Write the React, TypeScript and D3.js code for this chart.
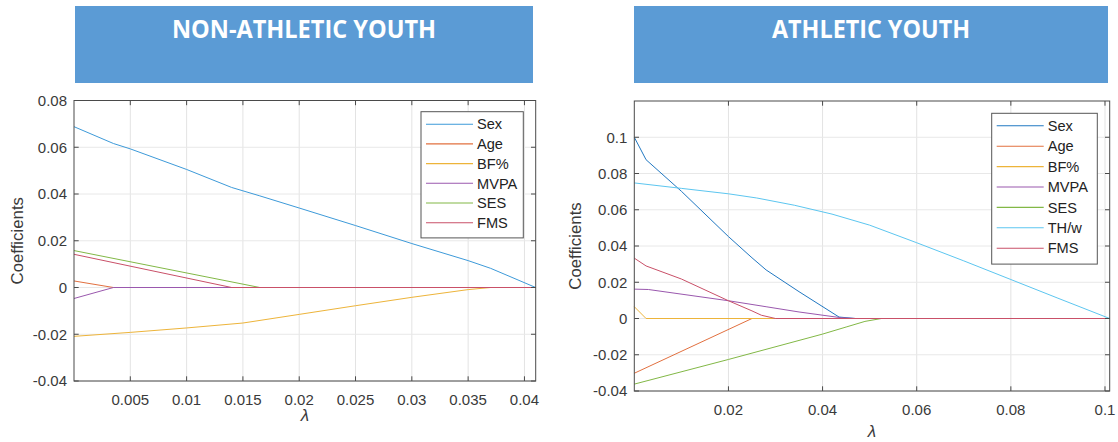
import React from 'react';
import * as d3 from 'd3';

type Pt = [number, number];

// ---------- Titles ----------
const panelTitles = ['NON-ATHLETIC YOUTH', 'ATHLETIC YOUTH'];
const yAxisLabel = 'Coefficients';
const xAxisLabel = 'λ';

// ---------- Non-athletic youth ----------
const naSeriesNames = ['Sex', 'Age', 'BF%', 'MVPA', 'SES', 'FMS'];
const naXTicks = [0.005, 0.01, 0.015, 0.02, 0.025, 0.03, 0.035, 0.04];
const naYTicks = [-0.04, -0.02, 0, 0.02, 0.04, 0.06, 0.08];
const naXDomain: Pt = [0, 0.041];
const naYDomain: Pt = [-0.04, 0.08];

const naSex: Pt[] = [
  [0, 0.0688], [0.0035, 0.0616], [0.005, 0.0593], [0.01, 0.0505], [0.014, 0.0428],
  [0.0165, 0.0392], [0.02, 0.034], [0.025, 0.0265], [0.03, 0.0188], [0.035, 0.0115],
  [0.037, 0.0082], [0.041, 0],
];
const naAge: Pt[] = [[0, 0.0028], [0.0035, 0], [0.041, 0]];
const naBF: Pt[] = [
  [0, -0.0209], [0.005, -0.0192], [0.01, -0.0173], [0.015, -0.0152], [0.02, -0.0115],
  [0.025, -0.0078], [0.03, -0.0042], [0.035, -0.0009], [0.037, 0], [0.041, 0],
];
const naMVPA: Pt[] = [[0, -0.0047], [0.0035, 0], [0.041, 0]];
const naSES: Pt[] = [[0, 0.0158], [0.0165, 0], [0.041, 0]];
const naFMS: Pt[] = [[0, 0.0142], [0.014, 0], [0.041, 0]];

// ---------- Athletic youth ----------
const atSeriesNames = ['Sex', 'Age', 'BF%', 'MVPA', 'SES', 'TH/w', 'FMS'];
const atXTicks = [0.02, 0.04, 0.06, 0.08, 0.1];
const atYTicks = [-0.04, -0.02, 0, 0.02, 0.04, 0.06, 0.08, 0.1];
const atXDomain: Pt = [0, 0.101];
const atYDomain: Pt = [-0.04, 0.12];

const atSex: Pt[] = [
  [0, 0.1], [0.0025, 0.0876], [0.01, 0.0702], [0.02, 0.0452], [0.025, 0.0335],
  [0.028, 0.0268], [0.035, 0.0148], [0.0435, 0.0008], [0.047, 0], [0.101, 0],
];
const atAge: Pt[] = [[0, -0.0302], [0.025, 0], [0.101, 0]];
const atBF: Pt[] = [[0, 0.0065], [0.0025, 0], [0.101, 0]];
const atMVPA: Pt[] = [
  [0, 0.0162], [0.003, 0.016], [0.02, 0.0098], [0.028, 0.0065], [0.035, 0.0036],
  [0.044, 0.0004], [0.047, 0], [0.101, 0],
];
const atSES: Pt[] = [
  [0, -0.0362], [0.02, -0.0226], [0.04, -0.0086], [0.045, -0.0047], [0.049, -0.0016],
  [0.0525, 0], [0.101, 0],
];
const atTHw: Pt[] = [
  [0, 0.0748], [0.01, 0.0718], [0.02, 0.0688], [0.026, 0.0665], [0.034, 0.0625],
  [0.042, 0.0576], [0.05, 0.0515], [0.06, 0.0418], [0.07, 0.0318], [0.08, 0.0215],
  [0.09, 0.0112], [0.101, 0],
];
const atFMS: Pt[] = [
  [0, 0.0333], [0.0025, 0.029], [0.01, 0.0218], [0.02, 0.0098], [0.025, 0.0042],
  [0.027, 0.0018], [0.03, 0], [0.101, 0],
];

// ---------- Styles ----------
const COLORS: Record<string, string> = {
  SexLight: '#3D9AD9',
  Sex: '#2178C2',
  Age: '#E2703F',
  'BF%': '#EDB43A',
  MVPA: '#9A58AE',
  SES: '#82B846',
  'TH/w': '#5CC6F0',
  FMS: '#C95068',
};

const FONT = '"Liberation Sans", Arial, Helvetica, sans-serif';

interface PanelProps {
  title: string;
  header: { x: number; y: number; w: number; h: number; textLen: number };
  plot: { x0: number; x1: number; y0: number; y1: number };
  xDomain: Pt;
  yDomain: Pt;
  xTicks: number[];
  yTicks: number[];
  series: { name: string; color: string; data: Pt[] }[];
  legend: { x: number; y: number; w: number; rowH: number };
  ylabDx: number;
  xlabDy: number;
}

function fmt(v: number): string {
  if (Math.abs(v) < 1e-12) return '0';
  return String(+v.toFixed(4));
}

function Panel(p: PanelProps) {
  const xs = d3.scaleLinear().domain(p.xDomain).range([p.plot.x0, p.plot.x1]);
  const ys = d3.scaleLinear().domain(p.yDomain).range([p.plot.y1, p.plot.y0]);
  const line = d3
    .line<Pt>()
    .x((d) => xs(d[0]))
    .y((d) => ys(d[1]));
  const { x0, x1, y0, y1 } = p.plot;
  const tl = 4.7;
  const axisColor = '#4a4a4a';
  const textColor = '#3a3a3a';
  const legH = p.series.length * p.legend.rowH + 8;
  return (
    <g>
      <rect x={p.header.x} y={p.header.y} width={p.header.w} height={p.header.h} fill="#5B9BD5" />
      <text
        x={p.header.x + p.header.w / 2}
        y={p.header.y + 32}
        fill="#ffffff"
        fontFamily='"Open Sans", "Noto Sans", sans-serif'
        fontWeight="bold"
        fontSize={25}
        textAnchor="middle"
        textLength={p.header.textLen}
        lengthAdjust="spacingAndGlyphs"
      >
        {p.title}
      </text>

      <rect x={x0} y={y0} width={x1 - x0} height={y1 - y0} fill="#ffffff" />
      {/* grid */}
      {p.xTicks.map((t) => (
        <line key={'gx' + t} x1={xs(t)} x2={xs(t)} y1={y0} y2={y1} stroke="#e3e3e3" strokeWidth={1} />
      ))}
      {p.yTicks.map((t) => (
        <line key={'gy' + t} x1={x0} x2={x1} y1={ys(t)} y2={ys(t)} stroke="#e8e8e8" strokeWidth={1} />
      ))}

      {/* series */}
      {p.series.map((s) => (
        <path key={s.name} d={line(s.data) || ''} fill="none" stroke={s.color} strokeWidth={1} />
      ))}

      {/* box + ticks */}
      <rect x={x0} y={y0} width={x1 - x0} height={y1 - y0} fill="none" stroke={axisColor} strokeWidth={1} />
      {p.xTicks.map((t) => (
        <g key={'tx' + t}>
          <line x1={xs(t)} x2={xs(t)} y1={y1} y2={y1 - tl} stroke={axisColor} />
          <line x1={xs(t)} x2={xs(t)} y1={y0} y2={y0 + tl} stroke={axisColor} />
          <text
            x={xs(t)}
            y={y1 + 23.5}
            fontFamily={FONT}
            fontSize={15}
            fill={textColor}
            textAnchor="middle"
          >
            {fmt(t)}
          </text>
        </g>
      ))}
      {p.yTicks.map((t) => (
        <g key={'ty' + t}>
          <line x1={x0} x2={x0 + tl} y1={ys(t)} y2={ys(t)} stroke={axisColor} />
          <line x1={x1} x2={x1 - tl} y1={ys(t)} y2={ys(t)} stroke={axisColor} />
          <text
            x={x0 - 7}
            y={ys(t) + 5.4}
            fontFamily={FONT}
            fontSize={15}
            fill={textColor}
            textAnchor="end"
          >
            {fmt(t)}
          </text>
        </g>
      ))}

      {/* axis labels */}
      <text
        transform={`translate(${x0 - p.ylabDx},${(y0 + y1) / 2}) rotate(-90)`}
        fontFamily={FONT}
        fontSize={16.8}
        fill={textColor}
        textAnchor="middle"
        dominantBaseline="central"
      >
        {yAxisLabel}
      </text>
      <text
        x={(x0 + x1) / 2}
        y={y1 + p.xlabDy}
        fontFamily={FONT}
        fontStyle="italic"
        fontSize={17}
        fill={textColor}
        textAnchor="middle"
      >
        {xAxisLabel}
      </text>

      {/* legend */}
      <rect
        x={p.legend.x}
        y={p.legend.y}
        width={p.legend.w}
        height={legH}
        fill="#ffffff"
        stroke="#555555"
        strokeWidth={1}
      />
      {p.series.map((s, i) => {
        const cy = p.legend.y + 12.5 + i * p.legend.rowH;
        return (
          <g key={'lg' + s.name}>
            <line
              x1={p.legend.x + 5}
              x2={p.legend.x + 52}
              y1={cy}
              y2={cy}
              stroke={s.color}
              strokeWidth={1.1}
            />
            <text
              x={p.legend.x + 56}
              y={cy + 5.2}
              fontFamily={FONT}
              fontSize={14.6}
              fill="#222222"
            >
              {s.name}
            </text>
          </g>
        );
      })}
    </g>
  );
}

export default function App() {
  const naData = [naSex, naAge, naBF, naMVPA, naSES, naFMS];
  const atData = [atSex, atAge, atBF, atMVPA, atSES, atTHw, atFMS];
  const naSeries = naSeriesNames.map((n, i) => ({
    name: n,
    color: n === 'Sex' ? COLORS.SexLight : COLORS[n],
    data: naData[i],
  }));
  const atSeries = atSeriesNames.map((n, i) => ({
    name: n,
    color: COLORS[n],
    data: atData[i],
  }));
  return (
    <svg
      width={1118}
      height={442}
      style={{ position: 'absolute', left: 0, top: 0, background: '#ffffff' }}
    >
      <rect x={0} y={0} width={1118} height={442} fill="#ffffff" />
      <Panel
        title={panelTitles[0]}
        header={{ x: 75, y: 6, w: 458, h: 77, textLen: 264 }}
        plot={{ x0: 74, x1: 535.7, y0: 100.5, y1: 381 }}
        xDomain={naXDomain}
        yDomain={naYDomain}
        xTicks={naXTicks}
        yTicks={naYTicks}
        series={naSeries}
        legend={{ x: 421, y: 111.7, w: 102.3, rowH: 19.7 }}
        ylabDx={56.5}
        xlabDy={40}
      />
      <Panel
        title={panelTitles[1]}
        header={{ x: 634, y: 6, w: 474, h: 77, textLen: 198 }}
        plot={{ x0: 634.3, x1: 1109.7, y0: 101, y1: 391 }}
        xDomain={atXDomain}
        yDomain={atYDomain}
        xTicks={atXTicks}
        yTicks={atYTicks}
        series={atSeries}
        legend={{ x: 991.7, y: 113.3, w: 105.6, rowH: 20.4 }}
        ylabDx={59}
        xlabDy={46}
      />
    </svg>
  );
}
